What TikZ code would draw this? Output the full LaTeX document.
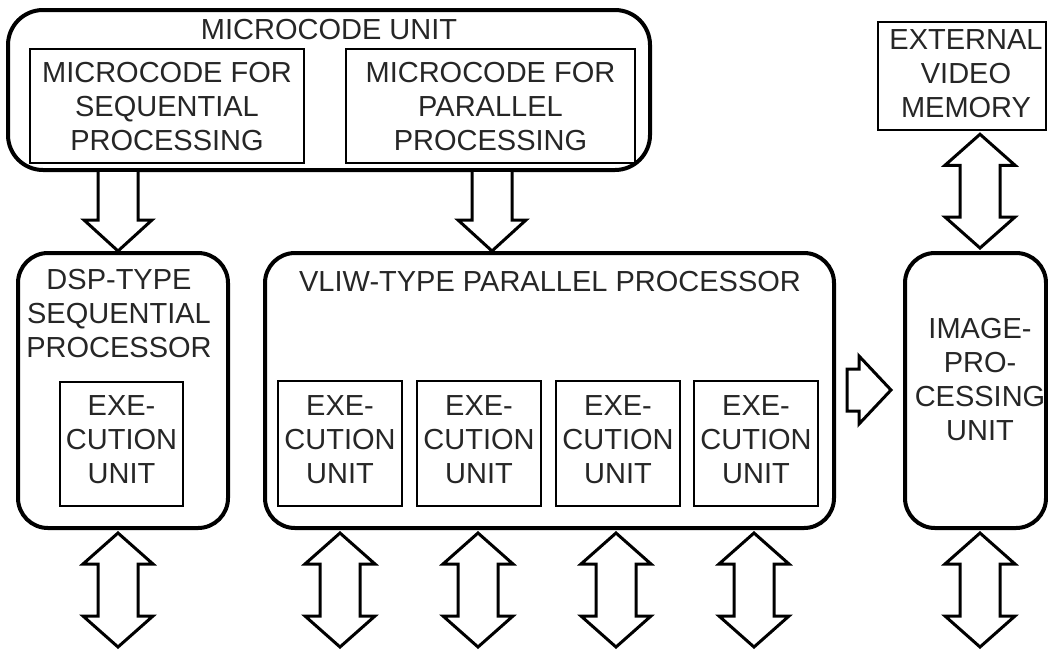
\documentclass[tikz,border=0pt]{standalone}
\usepackage{fontspec}
\setmainfont{Liberation Sans}
\usetikzlibrary{calc}
\tikzset{
  obox/.style={draw, line width=4pt, inner sep=0pt},
  ibox/.style={draw, line width=2.5pt, inner sep=0pt, align=center},
  lbl/.style={inner sep=0pt, align=center, text=black!85},
  barrow/.style={draw, line width=3pt, line join=miter, fill=white},
}
% x, from node anchor, to node anchor
\newcommand\blockdown[3]{%
  \draw[barrow] let \p1=(#2), \p2=(#3) in
    (#1pt-20pt,\y1) -- (#1pt-20pt,\y2+31pt) -- (#1pt-34pt,\y2+31pt) -- (#1pt,\y2)
    -- (#1pt+34pt,\y2+31pt) -- (#1pt+20pt,\y2+31pt) -- (#1pt+20pt,\y1);}
\newcommand\blockdouble[3]{%
  \draw[barrow] let \p1=(#2), \p2=(#3) in
    (#1pt,\y1-3pt) -- (#1pt+35pt,\y1-34pt) -- (#1pt+20pt,\y1-34pt) -- (#1pt+20pt,\y2+34pt)
    -- (#1pt+35pt,\y2+34pt) -- (#1pt,\y2+3pt) -- (#1pt-35pt,\y2+34pt) -- (#1pt-20pt,\y2+34pt)
    -- (#1pt-20pt,\y1-34pt) -- (#1pt-35pt,\y1-34pt) -- cycle;}
\newcommand\blockright[3]{%
  \draw[barrow] let \p1=(#2), \p2=(#3) in
    (\x1+11pt,-#1pt+21pt) -- (\x2-44pt,-#1pt+21pt) -- (\x2-44pt,-#1pt+34pt) -- (\x2-12pt,-#1pt)
    -- (\x2-44pt,-#1pt-34pt) -- (\x2-44pt,-#1pt-21pt) -- (\x1+11pt,-#1pt-21pt) -- cycle;}
\begin{document}
\begin{tikzpicture}[x=1pt, y=-1pt, font=\fontsize{29}{34}\selectfont]
\useasboundingbox (0,0) rectangle (1048,649);

% microcode unit
\node[obox, rounded corners=35pt, minimum width=642pt, minimum height=160pt] (mc) at (329,90) {};
\node[lbl] (mct) at (329,30) {MICROCODE UNIT};
\node[ibox, minimum width=274pt, minimum height=114pt] (mcseq) at (167,106) {};
\node[lbl] (mcseqt) at (167,107) {MICROCODE FOR\\SEQUENTIAL\\PROCESSING};
\node[ibox, minimum width=289pt, minimum height=114pt] (mcpar) at (490.5,106) {};
\node[lbl] (mcpart) at (490.5,107) {MICROCODE FOR\\PARALLEL\\PROCESSING};

% external video memory
\node[ibox, minimum width=168pt, minimum height=108pt] (ext) at (962,76) {};
\node[lbl] (extt) at (966,74) {EXTERNAL\\VIDEO\\MEMORY};

% DSP-type sequential processor
\node[obox, rounded corners=30pt, minimum width=210pt, minimum height=275pt] (dsp) at (123,390.5) {};
\node[lbl] (dspt) at (119,314) {DSP-TYPE\\SEQUENTIAL\\PROCESSOR};
\node[ibox, minimum width=123pt, minimum height=124pt] (dspex) at (121.5,444) {};
\node[lbl] (dspext) at (121.5,440) {EXE-\\CUTION\\UNIT};

% VLIW-type parallel processor
\node[obox, rounded corners=30pt, minimum width=569pt, minimum height=275pt] (vliw) at (549.5,390.5) {};
\node[lbl] (vliwt) at (550,282) {VLIW-TYPE PARALLEL PROCESSOR};
\foreach \i/\xx in {1/340, 2/479, 3/618, 4/756}{
  \node[ibox, minimum width=124pt, minimum height=125pt] (ex\i) at (\xx,443.5) {};
  \node[lbl] (ext\i) at (\xx,440) {EXE-\\CUTION\\UNIT};
}

% image-processing unit
\node[obox, rounded corners=30pt, minimum width=141pt, minimum height=275pt] (img) at (975.5,390.5) {};
\node[lbl] (imgt) at (980,380) {IMAGE-\\PRO-\\CESSING\\UNIT};

% bottom free ends
\foreach \i/\xx in {0/118, 1/340, 2/478, 3/616, 4/754, 5/980}{
  \coordinate (bot\i) at (\xx,650);
}

% connectors
\blockdown{118}{mc.south}{dsp.north}
\blockdown{492}{mc.south}{vliw.north}
\blockdouble{980}{ext.south}{img.north}
\blockright{390}{vliw.east}{img.west}
\blockdouble{118}{dsp.south}{bot0}
\blockdouble{340}{vliw.south}{bot1}
\blockdouble{478}{vliw.south}{bot2}
\blockdouble{616}{vliw.south}{bot3}
\blockdouble{754}{vliw.south}{bot4}
\blockdouble{980}{img.south}{bot5}
\end{tikzpicture}
\end{document}
